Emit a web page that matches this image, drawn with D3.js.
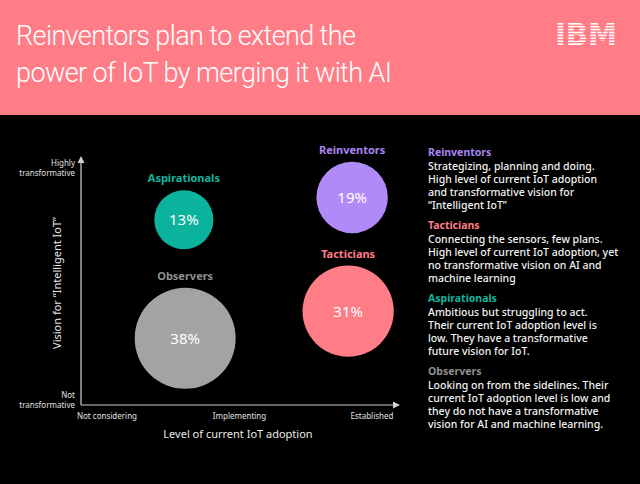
<!DOCTYPE html>
<html>
<head>
<meta charset="utf-8">
<script src="https://cdn.jsdelivr.net/npm/d3@7"></script>
<style>
  body { margin: 0; background: #000; }
  svg { display: block; }
</style>
</head>
<body>
<div id="chart"></div>
<script>
(function() {
    var width = 640;
    var height = 484;

    // data
    var titleLines = ["Reinventors plan to extend the", "power of IoT by merging it with AI"];
    var segments = ["Reinventors", "Tacticians", "Aspirationals", "Observers"];
    var shares = [19, 31, 13, 38];
    var adoption = [1.85, 1.82, 0.58, 0.59];   // 0 = not considering, 1 = implementing, 2 = established
    var vision = [0.84, 0.38, 0.75, 0.27];     // 0 = not transformative, 1 = highly transformative
    var colors = ["#b08bf8", "#ff7d87", "#0bb39c", "#a3a3a3"];
    var labelColors = ["#a886f3", "#ff7d87", "#10b59e", "#8f8f8f"];
    var xTicks = ["Not considering", "Implementing", "Established"];
    var descriptions = [
        ["Strategizing, planning and doing.", "High level of current IoT adoption", "and transformative vision for", "\u201cIntelligent IoT\u201d"],
        ["Connecting the sensors, few plans.", "High level of current IoT adoption, yet", "no transformative vision on AI and", "machine learning"],
        ["Ambitious but struggling to act.", "Their current IoT adoption level is", "low. They have a transformative", "future vision for IoT."],
        ["Looking on from the sidelines. Their", "current IoT adoption level is low and", "they do not have a transformative", "vision for AI and machine learning."]
    ];

    var font = "'Noto Sans', 'Open Sans', sans-serif";

    var svg = d3.select("#chart").append("svg")
        .attr("width", width)
        .attr("height", height)
        .style("font-family", font);

    svg.append("rect")
        .attr("width", width).attr("height", height)
        .attr("fill", "#000");

    // header
    svg.append("rect")
        .attr("width", width).attr("height", 115)
        .attr("fill", "#ff7d87");

    svg.selectAll(".title")
        .data(titleLines)
        .enter().append("text")
        .attr("class", "title")
        .attr("x", 16)
        .attr("y", function(d, i) { return 45 + i * 37; })
        .attr("fill", "#fff")
        .attr("font-family", "Roboto, sans-serif")
        .attr("font-size", "27px")
        .attr("font-weight", 300)
        .attr("letter-spacing", "-0.6px")
        .text(function(d) { return d; });

    // IBM logo: bold text cut by stripes
    svg.append("text")
        .attr("x", 586).attr("y", 45)
        .attr("text-anchor", "middle")
        .attr("fill", "#fff")
        .attr("font-family", "'DejaVu Sans', sans-serif")
        .attr("font-weight", "bold")
        .attr("font-size", "31px")
        .attr("textLength", 62)
        .attr("lengthAdjust", "spacingAndGlyphs")
        .text("IBM");
    svg.selectAll(".stripe")
        .data(d3.range(7))
        .enter().append("rect")
        .attr("x", 550).attr("width", 72)
        .attr("y", function(d) { return 24.6 + d * 2.9; })
        .attr("height", 1.3)
        .attr("fill", "#ff7d87");

    // scales
    var x = d3.scaleLinear().domain([0, 2]).range([107, 372]);
    var y = d3.scaleLinear().domain([0, 1]).range([405, 158]);
    var r = d3.scaleSqrt().domain([0, 38]).range([0, 50.5]);

    var axisColor = "#d0d0d0";

    // axes
    svg.append("line")
        .attr("x1", 81).attr("x2", 81)
        .attr("y1", 405).attr("y2", 162)
        .attr("stroke", axisColor).attr("stroke-width", 1.2);
    svg.append("path")
        .attr("d", "M77.5,163 L81,156 L84.5,163 Z")
        .attr("fill", axisColor);
    svg.append("line")
        .attr("x1", 81).attr("x2", 394)
        .attr("y1", 405).attr("y2", 405)
        .attr("stroke", axisColor).attr("stroke-width", 1.2);
    svg.append("path")
        .attr("d", "M393,401.5 L400,405 L393,408.5 Z")
        .attr("fill", axisColor);

    svg.selectAll(".xtick")
        .data(xTicks)
        .enter().append("text")
        .attr("class", "xtick")
        .attr("x", function(d, i) { return x(i); })
        .attr("y", 419)
        .attr("text-anchor", "middle")
        .attr("fill", "#e0e0e0")
        .attr("font-size", "8px")
        .text(function(d) { return d; });

    svg.append("text")
        .attr("x", 238).attr("y", 438)
        .attr("text-anchor", "middle")
        .attr("fill", "#e8e8e8")
        .attr("font-size", "11px")
        .text("Level of current IoT adoption");

    var yTickLabels = [["Highly", "transformative"], ["Not", "transformative"]];
    var yTickPos = [166, 398];
    yTickLabels.forEach(function(lines, k) {
        svg.selectAll(".ytick" + k)
            .data(lines)
            .enter().append("text")
            .attr("x", 75)
            .attr("y", function(d, i) { return yTickPos[k] + i * 9.5; })
            .attr("text-anchor", "end")
            .attr("fill", "#e0e0e0")
            .attr("font-size", "8px")
            .text(function(d) { return d; });
    });

    svg.append("text")
        .attr("transform", "translate(61,283) rotate(-90)")
        .attr("text-anchor", "middle")
        .attr("fill", "#e8e8e8")
        .attr("font-size", "11px")
        .text("Vision for \u201cIntelligent IoT\u201d");

    // bubbles
    var nodes = segments.map(function(s, i) {
        return { name: s, share: shares[i], ax: adoption[i], vy: vision[i], color: colors[i], lc: labelColors[i] };
    });

    var g = svg.selectAll(".bubble")
        .data(nodes)
        .enter().append("g")
        .attr("class", "bubble");

    g.append("circle")
        .attr("cx", function(d) { return x(d.ax); })
        .attr("cy", function(d) { return y(d.vy); })
        .attr("r", function(d) { return r(d.share); })
        .attr("fill", function(d) { return d.color; });

    g.append("text")
        .attr("x", function(d) { return x(d.ax); })
        .attr("y", function(d) { return y(d.vy) + 5.5; })
        .attr("text-anchor", "middle")
        .attr("fill", "#fff")
        .attr("font-size", "15px")
        .text(function(d) { return d.share + "%"; });

    g.append("text")
        .attr("x", function(d) { return x(d.ax); })
        .attr("y", function(d) { return y(d.vy) - r(d.share) - 8; })
        .attr("text-anchor", "middle")
        .attr("fill", function(d) { return d.lc; })
        .attr("font-size", "11px")
        .attr("font-weight", "bold")
        .text(function(d) { return d.name; });

    // legend descriptions
    var blocks = svg.selectAll(".desc")
        .data(nodes)
        .enter().append("g")
        .attr("class", "desc")
        .attr("transform", function(d, i) { return "translate(428," + (156 + i * 73) + ")"; });

    blocks.append("text")
        .attr("fill", function(d) { return d.lc; })
        .attr("font-size", "10.5px")
        .attr("font-weight", "bold")
        .text(function(d) { return d.name; });

    blocks.selectAll(".line")
        .data(function(d, i) { return descriptions[i]; })
        .enter().append("text")
        .attr("class", "line")
        .attr("y", function(d, i) { return 13.5 + i * 13; })
        .attr("fill", "#f2f2f2")
        .attr("font-size", "10.5px")
        .attr("font-weight", 500)
        .text(function(d) { return d; });

})();
</script>
</body>
</html>
